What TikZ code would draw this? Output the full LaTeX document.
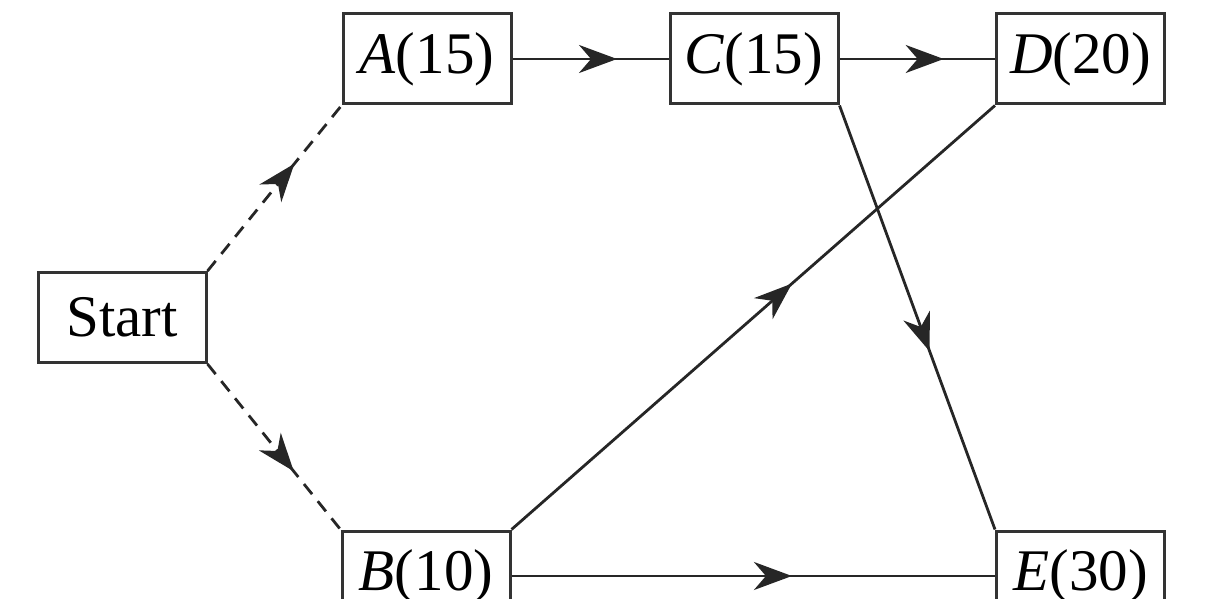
\documentclass[tikz,border=0pt]{standalone}
\usepackage{fontspec}
\setmainfont{Liberation Serif}
\usetikzlibrary{arrows.meta,decorations.markings}
\begin{document}
\begin{tikzpicture}[x=0.5pt,y=-0.5pt,
  box/.style={draw=black!80,line width=1.5pt,minimum width=84pt,minimum height=45pt,inner sep=0pt,
    font=\fontsize{29.5}{35}\selectfont},
  conn/.style={draw=black!85,line width=1.4pt},
  dsh/.style={dash pattern=on 6.5pt off 4.5pt},
  midarrow/.style={postaction={decorate,decoration={markings,
    mark=at position #1 with {\arrow{Stealth[length=19pt,width=14pt,inset=6pt]}}}}}
]
\clip (0,0) rectangle (1221,599);
\useasboundingbox (0,0) rectangle (1221,599);
\node[box] (S) at (122,317.5) {Start};
\node[box] (A) at (427,59) {\textit{A}(15)};
\node[box] (C) at (754,59) {\textit{C}(15)};
\node[box] (D) at (1080.5,59) {\textit{D}(20)};
\node[box] (B) at (426,576) {\textit{B}(10)};
\node[box] (E) at (1080.5,576) {\textit{E}(30)};
\draw[conn,dsh,midarrow=0.65] (S.north east) -- (A.south west);
\draw[conn,dsh,midarrow=0.65] (S.south east) -- (B.north west);
\draw[conn,midarrow=0.67] (A.east) -- (C.west);
\draw[conn,midarrow=0.67] (C.east) -- (D.west);
\draw[conn,midarrow=0.58] (B.north east) -- (D.south west);
\draw[conn,midarrow=0.58] (C.south east) -- (E.north west);
\draw[conn,midarrow=0.58] (B.east) -- (E.west);
\end{tikzpicture}
\end{document}
